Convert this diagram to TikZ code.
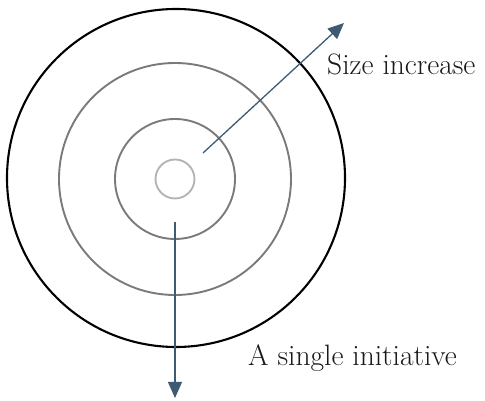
\documentclass[tikz,border=0pt]{standalone}
\usetikzlibrary{arrows.meta}
\definecolor{ringgray}{HTML}{7A7A7A}
\definecolor{ringlight}{HTML}{B4B4B4}
\definecolor{arrowblue}{HTML}{3F5A73}
\begin{document}
\begin{tikzpicture}[x=1pt,y=1pt,
  ring/.style={circle,draw,inner sep=0pt,line width=1.9pt},
  arr/.style={draw=arrowblue,line width=1.3pt,-{Triangle[length=16pt,width=14pt]},arrowblue},
  lab/.style={inner sep=0pt,font=\fontsize{29.5}{34}\selectfont,text=black!90}]
\useasboundingbox (0,0) rectangle (485,401);
\node[ring,draw=black,line width=2.1pt,minimum size=338pt] (outer) at (176,223) {};
\node[ring,draw=ringgray,minimum size=232pt] (third) at (175,222) {};
\node[ring,draw=ringgray,minimum size=120pt] (second) at (175,222) {};
\node[ring,draw=ringlight,minimum size=39pt] (inner) at (175,222) {};
\coordinate (s1) at (203,248);
\coordinate (e1) at (344,378);
\coordinate (s2) at (175,179);
\coordinate (e2) at (175,3);
\draw[arr] (s1) -- (e1);
\draw[arr] (s2) -- (e2);
\node[lab,anchor=west] (size) at (327,337) {Size increase};
\node[lab,anchor=west] (single) at (248,43) {A single initiative};
\end{tikzpicture}
\end{document}
